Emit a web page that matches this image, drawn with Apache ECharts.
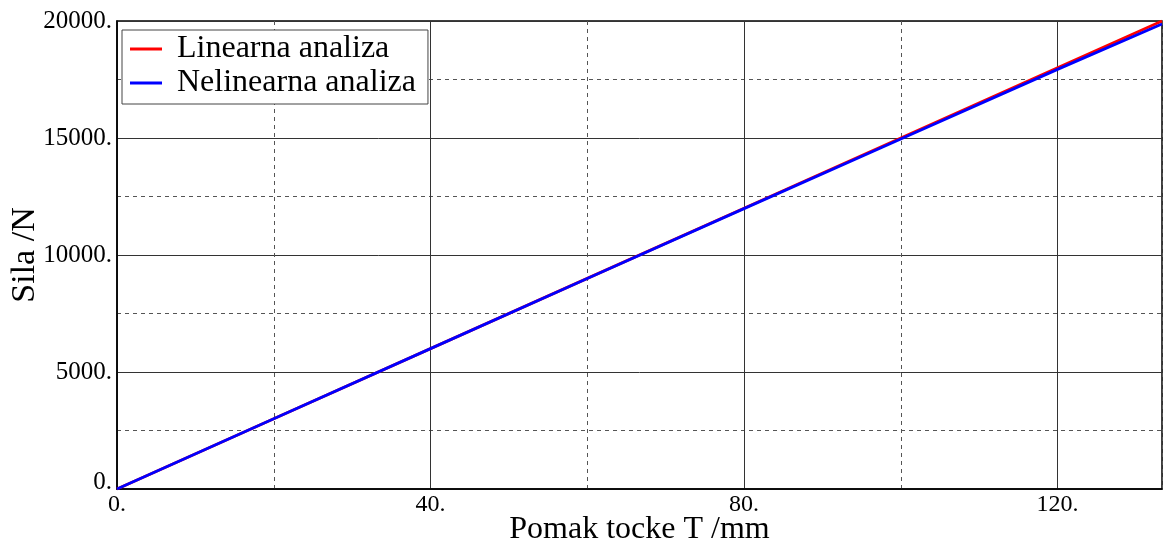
<!DOCTYPE html>
<html>
<head>
<meta charset="utf-8">
<script src="https://cdn.jsdelivr.net/npm/echarts@6/dist/echarts.min.js"></script>
<style>
  html, body { margin: 0; padding: 0; background: #fff; }
  #chart { width: 1163px; height: 544px; }
</style>
</head>
<body>
<div id="chart"></div>
<script>
// Displacement of point T (mm) against applied force (N)
const displacement = [0, 20, 40, 60, 80, 100, 120, 133.33];
const linearForce = [0, 3000, 6000, 9000, 12000, 15000, 18000, 20000];
const nonlinearForce = [0, 3000, 5998, 8994, 11982, 14958, 17932, 19875];
const seriesNames = ['Linearna analiza', 'Nelinearna analiza'];
const xAxisTitle = 'Pomak tocke T /mm';
const yAxisTitle = 'Sila /N';

const serif = 'Liberation Serif';

function pairs(xs, ys) {
  return xs.map((x, i) => [x, ys[i]]);
}

const chart = echarts.init(document.getElementById('chart'), null, { renderer: 'canvas' });

chart.setOption({
  animation: false,
  backgroundColor: '#fff',
  grid: {
    left: 117, right: 1, top: 21, bottom: 55,
    show: true, borderColor: '#000', borderWidth: 1.5,
    containLabel: false,
    outerBoundsMode: 'none'
  },
  legend: {
    orient: 'vertical',
    left: 122, top: 30,
    padding: [3, 12, 5, 8],
    icon: 'rect',
    itemWidth: 32, itemHeight: 3,
    itemGap: 2,
    itemTextGap: 16,
    backgroundColor: '#fff',
    borderColor: '#444', borderWidth: 1,
    textStyle: {
      fontFamily: serif, fontSize: 32, color: '#000', lineHeight: 31,
      padding: [0, 0, 0, 10]
    },
    data: seriesNames
  },
  xAxis: [
    {
      type: 'value', min: 0, max: 133.33, interval: 40,
      name: xAxisTitle, nameLocation: 'middle', nameGap: 25, nameMoveOverlap: false,
      nameTextStyle: { fontFamily: serif, fontSize: 32, color: '#000' },
      axisLine: { show: true, lineStyle: { color: '#000', width: 1.5 } },
      axisTick: { show: false },
      axisLabel: {
        fontFamily: serif, fontSize: 24, color: '#000', margin: 4,
        showMaxLabel: false,
        formatter: v => v + '.'
      },
      splitLine: { show: true, lineStyle: { color: '#333', width: 1, type: 'solid' } }
    },
    {
      // dashed intermediate verticals at 20, 60, 100
      type: 'value', min: 0, max: 133.33, interval: 20,
      show: true,
      axisLine: { show: false }, axisTick: { show: false }, axisLabel: { show: false },
      splitLine: {
        show: true,
        lineStyle: { color: ['rgba(0,0,0,0)', '#555'], width: 1, type: [4, 4] }
      }
    }
  ],
  yAxis: {
    type: 'value', min: 0, max: 20000, interval: 5000,
    name: yAxisTitle, nameLocation: 'middle', nameGap: 75, nameRotate: 90, nameMoveOverlap: false,
    nameTextStyle: { fontFamily: serif, fontSize: 34, color: '#000' },
    axisLine: { show: true, lineStyle: { color: '#000', width: 1.5 } },
    axisTick: { show: false },
    axisLabel: {
      fontFamily: serif, fontSize: 25, color: '#000', margin: 5,
      formatter: v => (v === 0 ? '{z|0.}' : v + '.'),
      rich: { z: { fontFamily: serif, fontSize: 25, color: '#000', padding: [0, 0, 14, 0] } }
    },
    splitLine: { show: true, lineStyle: { color: '#333', width: 1 } },
    minorTick: { show: false, splitNumber: 2 },
    minorSplitLine: { show: true, lineStyle: { color: '#555', width: 1, type: [4, 4] } }
  },
  series: [
    {
      name: seriesNames[0], type: 'line', xAxisIndex: 0,
      data: pairs(displacement, linearForce),
      symbol: 'none', color: '#ff0000',
      lineStyle: { color: '#ff0000', width: 2.8 }, z: 3
    },
    {
      name: seriesNames[1], type: 'line', xAxisIndex: 0,
      data: pairs(displacement, nonlinearForce),
      symbol: 'none', color: '#0000ff',
      lineStyle: { color: '#0000ff', width: 2.8 }, z: 4
    }
  ]
});
</script>
</body>
</html>
